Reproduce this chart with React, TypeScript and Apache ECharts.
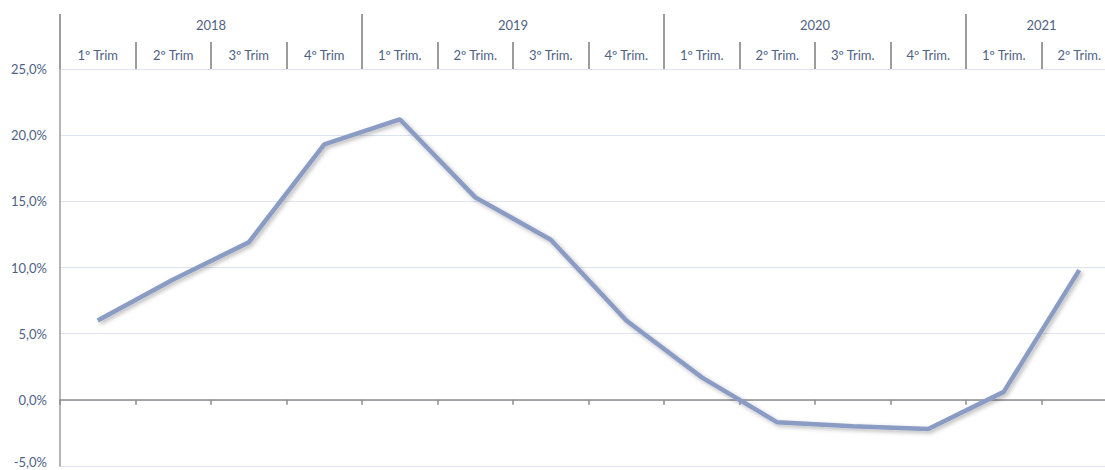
import React, { useEffect, useRef } from "react";
import * as echarts from "echarts";

// Quarter labels (2018 without the trailing dot, later years with it)
const quarters = [
  "1º Trim", "2º Trim", "3º Trim", "4º Trim",
  "1º Trim.", "2º Trim.", "3º Trim.", "4º Trim.",
  "1º Trim.", "2º Trim.", "3º Trim.", "4º Trim.",
  "1º Trim.", "2º Trim.",
];

// Year header: one slot per quarter boundary (15 boundaries for 14 quarters)
const yearMarks = ["", "", "2018", "", "", "", "2019", "", "", "", "2020", "", "", "2021", ""];
const yearStarts = [0, 4, 8, 12];

// Year-on-year growth rate, %
const growth = [6.0, 9.1, 11.9, 19.3, 21.2, 15.3, 12.1, 6.0, 1.7, -1.7, -2.0, -2.2, 0.6, 9.8];

const yMin = -5;
const yMax = 25;
const yStep = 5;

const TEXT = "#4f6184";
const RULE = "#9c9c9c";
const FONT = "Lato";

const pct = (v: number) => v.toFixed(1).replace(".", ",") + "%";

export default function App() {
  const ref = useRef<HTMLDivElement>(null);

  useEffect(() => {
    if (!ref.current) return;
    const chart = echarts.init(ref.current, undefined, { renderer: "svg" });
    chart.setOption({
      animation: false,
      backgroundColor: "#ffffff",
      grid: { left: 60, right: 0, top: 69, bottom: 4, containLabel: false },
      xAxis: [
        {
          type: "category",
          data: quarters,
          position: "top",
          boundaryGap: true,
          axisLine: { show: false, onZero: false },
          axisTick: { show: true, length: 27, lineStyle: { color: RULE, width: 2 } },
          axisLabel: { margin: 8, fontSize: 13, color: TEXT, fontFamily: FONT, interval: 0 },
          splitLine: { show: false },
        },
        {
          type: "category",
          data: yearMarks,
          position: "top",
          boundaryGap: false,
          axisLine: { show: false, onZero: false },
          axisTick: {
            show: true,
            length: 55,
            interval: (i: number) => yearStarts.includes(i),
            lineStyle: { color: RULE, width: 2 },
          },
          axisLabel: { margin: 38, fontSize: 13, color: TEXT, fontFamily: FONT, interval: 0 },
          splitLine: { show: false },
        },
        {
          type: "category",
          data: quarters,
          position: "bottom",
          boundaryGap: true,
          axisLine: { show: true, onZero: true, lineStyle: { color: "#8c8c8c", width: 1.5 } },
          axisTick: { show: true, length: 5, lineStyle: { color: "#8c8c8c", width: 1.5 } },
          axisLabel: { show: false },
          splitLine: { show: false },
        },
      ],
      yAxis: {
        type: "value",
        min: yMin,
        max: yMax,
        interval: yStep,
        axisLine: { show: true, lineStyle: { color: RULE, width: 1.5 } },
        axisTick: { show: false },
        axisLabel: {
          margin: 13,
          fontSize: 13,
          color: TEXT,
          fontFamily: FONT,
          // the lowest label is lifted a little so it stays inside the canvas
          formatter: (v: number) => (v === yMin ? "{low|" + pct(v) + "}" : pct(v)),
          rich: {
            low: { fontSize: 13, color: TEXT, fontFamily: FONT, padding: [0, 0, 8, 0] },
          },
        },
        splitLine: { show: true, lineStyle: { color: "#dce4f0", width: 1 } },
      },
      series: [
        {
          type: "line",
          xAxisIndex: 0,
          data: growth,
          symbol: "none",
          smooth: false,
          lineStyle: {
            color: "#8a9cc4",
            width: 4.5,
            shadowColor: "rgba(0,0,0,0.28)",
            shadowBlur: 4,
            shadowOffsetX: 2,
            shadowOffsetY: 2,
          },
        },
      ],
    });
    return () => chart.dispose();
  }, []);

  return (
    <div
      style={{ position: "fixed", left: 0, top: 0, width: 1105, height: 470, overflow: "hidden", background: "#fff" }}
    >
      <div ref={ref} style={{ width: 1120, height: 470 }} />
    </div>
  );
}
